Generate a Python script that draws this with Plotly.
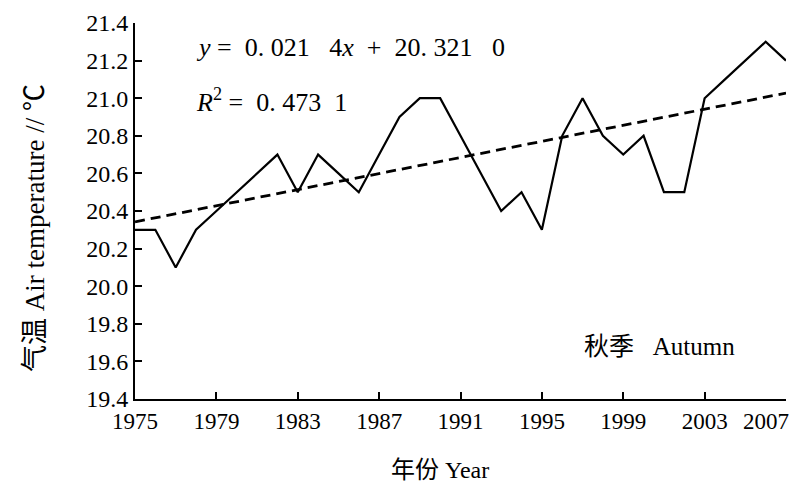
import plotly.graph_objects as go

years = list(range(1975, 2008))
temps = [20.3, 20.3, 20.1, 20.3, 20.4, 20.5, 20.6, 20.7, 20.5, 20.7,
         20.6, 20.5, 20.7, 20.9, 21.0, 21.0, 20.8, 20.6, 20.4, 20.5,
         20.3, 20.8, 21.0, 20.8, 20.7, 20.8, 20.5, 20.5, 21.0, 21.1,
         21.2, 21.3, 21.2]
slope = 0.0214
intercept = 20.3210
trend = [slope * (i + 1) + intercept for i in range(len(years))]

x_ticks = [1975, 1979, 1983, 1987, 1991, 1995, 1999, 2003, 2007]
x_ticktext = ["1975", "1979", "1983", "1987", "1991", "1995", "1999", "2003",
              "2007" + "\u00a0" * 7]
y_ticks = [19.4, 19.6, 19.8, 20.0, 20.2, 20.4, 20.6, 20.8, 21.0, 21.2, 21.4]
y_ticktext = ["%.1f" % v for v in y_ticks]

FONT = "Liberation Serif, Times New Roman, Noto Sans CJK SC, serif"

# page is drawn with an 8px body offset
OFF = 8
W, H = 803 - OFF, 492 - OFF
l, r, t, b = 135 - OFF, 17, 23 - OFF, 93
pw, ph = W - l - r, H - t - b


def px(xp):
    return (xp - OFF - l) / pw


def py(yp):
    return (H - b - (yp - OFF)) / ph


fig = go.Figure()
fig.add_trace(go.Scatter(x=years, y=temps, mode="lines",
                         line=dict(color="black", width=2.2), showlegend=False))
fig.add_trace(go.Scatter(x=years, y=trend, mode="lines",
                         line=dict(color="black", width=2.8, dash="10px,6px"), showlegend=False))

fig.update_layout(
    width=W, height=H,
    margin=dict(l=l, r=r, t=t, b=b, autoexpand=False),
    paper_bgcolor="white", plot_bgcolor="white",
    font=dict(family=FONT, size=22, color="black"),
    xaxis=dict(range=[1975, 2007], tickvals=x_ticks, ticktext=x_ticktext,
               ticks="inside", ticklen=7, ticklabeloverflow="allow", automargin=False,
               tickwidth=2, tickcolor="black", showline=True, linecolor="black",
               linewidth=2, showgrid=False, zeroline=False,
               tickfont=dict(family=FONT, size=23)),
    yaxis=dict(range=[19.4, 21.4], tickvals=y_ticks, ticktext=y_ticktext, automargin=False,
               ticks="inside", ticklen=7, tickwidth=2, tickcolor="black",
               showline=True, linecolor="black", linewidth=2, showgrid=False,
               zeroline=False, tickfont=dict(family=FONT, size=24)),
    annotations=[
        dict(text="气温 Air temperature // ℃", x=px(35), y=py(228),
             xref="paper", yref="paper",
             xanchor="center", yanchor="middle", textangle=-90, showarrow=False,
             font=dict(family=FONT, size=27)),
        dict(text="年份 Year", x=px(440), y=py(470),
             xref="paper", yref="paper", xanchor="center", yanchor="middle",
             showarrow=False, font=dict(family=FONT, size=24)),
        dict(text="<i>y</i> =  0. 021   4<i>x</i>  +  20. 321   0", x=1977.9, y=21.27,
             xref="x", yref="y", xanchor="left", yanchor="middle", showarrow=False,
             font=dict(family=FONT, size=26)),
        dict(text="<i>R</i><sup>2</sup> =  0. 473  1", x=1977.9, y=20.99,
             xref="x", yref="y", xanchor="left", yanchor="middle", showarrow=False,
             font=dict(family=FONT, size=26)),
        dict(text="秋季   Autumn", x=2000.8, y=19.68,
             xref="x", yref="y", xanchor="center", yanchor="middle", showarrow=False,
             font=dict(family=FONT, size=25)),
    ],
)

fig.write_html("out.html")
